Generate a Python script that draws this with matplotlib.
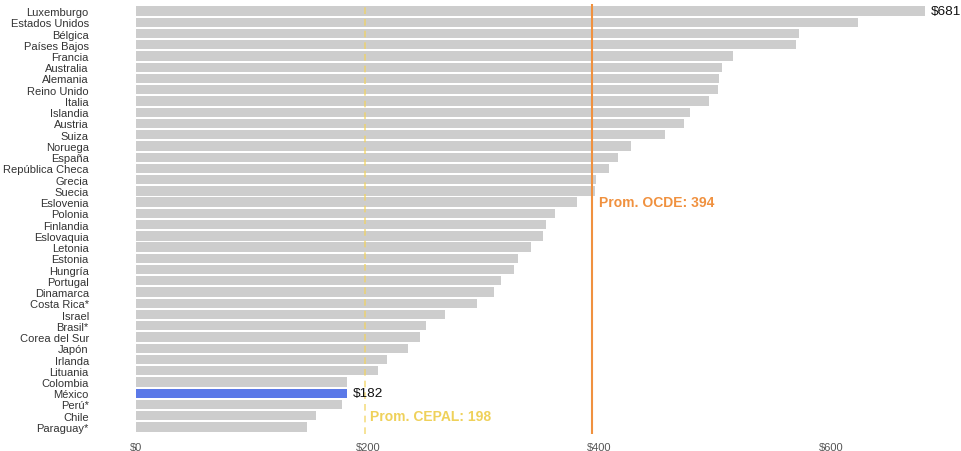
import matplotlib
matplotlib.use("Agg")
import matplotlib.pyplot as plt

countries = ["Luxemburgo", "Estados Unidos", "Bélgica", "Países Bajos", "Francia",
             "Australia", "Alemania", "Reino Unido", "Italia", "Islandia", "Austria",
             "Suiza", "Noruega", "España", "República Checa", "Grecia", "Suecia",
             "Eslovenia", "Polonia", "Finlandia", "Eslovaquia", "Letonia", "Estonia",
             "Hungría", "Portugal", "Dinamarca", "Costa Rica*", "Israel", "Brasil*",
             "Corea del Sur", "Japón", "Irlanda", "Lituania", "Colombia", "México",
             "Perú*", "Chile", "Paraguay*"]
values = [681, 623, 572, 570, 515, 506, 503, 502, 495, 478, 473, 457, 427, 416, 408,
          397, 396, 381, 362, 354, 351, 341, 330, 326, 315, 309, 294, 267, 250, 245,
          235, 217, 209, 182, 182, 178, 155, 148]
highlight = "México"
ocde_avg = 394
cepal_avg = 198
xticks = [0, 200, 400, 600]
xtick_labels = ["$0", "$200", "$400", "$600"]

plt.rcParams['font.family'] = ['Liberation Sans', 'DejaVu Sans']

fig = plt.figure(figsize=(9.61, 4.52), dpi=100)
ax = fig.add_axes([136/961, 1 - 434.7/452, 811/961, (434.7 - 5.3)/452])

pos = list(range(len(countries)))
colors = ["#5b79e8" if c == highlight else "#cdcdcd" for c in countries]
ax.barh(pos, values, height=0.83, color=colors, zorder=2)

ax.axvline(ocde_avg, color="#f0913f", lw=1.5, zorder=3)
ax.axvline(cepal_avg, color="#f2d35c", lw=1.2, ls=(0, (4, 3)), alpha=0.75, zorder=3)

ax.text(ocde_avg + 6, 17, "Prom. OCDE: 394", color="#f0913f", fontsize=10,
        fontweight="bold", va="center", ha="left")
ax.text(cepal_avg + 4, 36, "Prom. CEPAL: 198", color="#efd15a", fontsize=10,
        fontweight="bold", va="center", ha="left")

i_max = 0
ax.text(values[i_max] + 5, i_max, f"${values[i_max]}", fontsize=9.7, va="center",
        ha="left", color="#111111")
i_mx = countries.index(highlight)
ax.text(values[i_mx] + 5, i_mx, f"${values[i_mx]}", fontsize=9.7, va="center",
        ha="left", color="#111111")

ax.set_xlim(0, 700)
ax.set_ylim(len(countries) - 1 + 0.6, -0.6)
ax.set_yticks(pos)
ax.set_yticklabels(countries, fontsize=8, color="#333333")
ax.set_xticks(xticks)
ax.set_xticklabels(xtick_labels, fontsize=8, color="#555555")
ax.tick_params(axis="y", length=0, pad=34)
ax.tick_params(axis="x", length=0, pad=6)
for s in ax.spines.values():
    s.set_visible(False)

fig.savefig("out.png", dpi=100)
